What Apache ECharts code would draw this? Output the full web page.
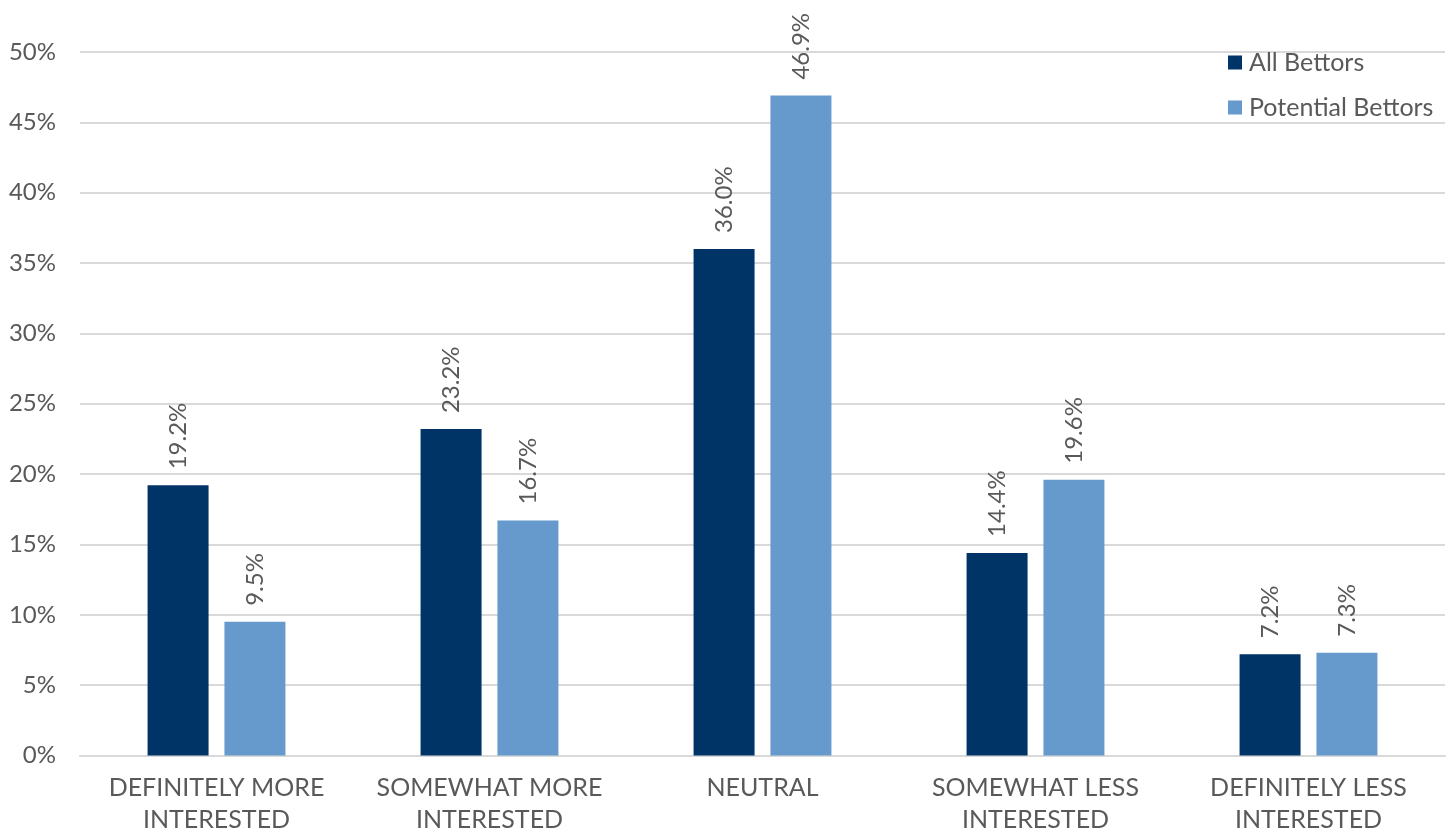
<!DOCTYPE html>
<html>
<head>
<meta charset="utf-8">
<script src="https://cdn.jsdelivr.net/npm/echarts@6/dist/echarts.min.js"></script>
<style>
  html, body { margin: 0; padding: 0; background: #ffffff; }
  #chart { width: 1455px; height: 832px; }
</style>
</head>
<body>
<div id="chart"></div>
<script>
const categories = [
  'DEFINITELY MORE\nINTERESTED',
  'SOMEWHAT MORE\nINTERESTED',
  'NEUTRAL',
  'SOMEWHAT LESS\nINTERESTED',
  'DEFINITELY LESS\nINTERESTED'
];
const allBettors = [19.2, 23.2, 36.0, 14.4, 7.2];
const potentialBettors = [9.5, 16.7, 46.9, 19.6, 7.3];
const yTicks = { min: 0, max: 50, step: 5 };

const FONT = 'Lato';
const TEXT = '#595959';
const GRID = '#d9d9d9';

// value labels stand upright above each bar, reading bottom to top
const valueLabel = {
  show: true,
  position: 'top',
  rotate: 90,
  align: 'left',
  verticalAlign: 'middle',
  distance: 16,
  color: TEXT,
  fontFamily: FONT,
  fontSize: 24,
  formatter: p => p.value.toFixed(1) + '%'
};

const chart = echarts.init(document.getElementById('chart'), null, { renderer: 'canvas' });
chart.setOption({
  backgroundColor: '#ffffff',
  animation: false,
  textStyle: { fontFamily: FONT },
  grid: {
    left: 80, right: 10, top: 52, bottom: 76.5,
    containLabel: false,
    outerBoundsMode: 'none'
  },
  legend: {
    orient: 'vertical',
    left: 1223,
    top: 45,
    itemWidth: 14,
    itemHeight: 14,
    itemGap: 20,
    icon: 'rect',
    textStyle: { color: TEXT, fontSize: 25, fontFamily: FONT, padding: [0, 0, 0, 2] },
    data: ['All Bettors', 'Potential Bettors']
  },
  xAxis: {
    type: 'category',
    data: categories,
    axisLine: { lineStyle: { color: GRID, width: 2 } },
    axisTick: { show: false },
    axisLabel: {
      color: TEXT, fontSize: 25, fontFamily: FONT,
      lineHeight: 32, margin: 16, interval: 0
    }
  },
  yAxis: {
    type: 'value',
    min: yTicks.min,
    max: yTicks.max,
    interval: yTicks.step,
    axisLine: { show: false },
    axisTick: { show: false },
    axisLabel: {
      color: TEXT, fontSize: 24, fontFamily: FONT, margin: 24,
      formatter: '{value}%'
    },
    splitLine: { lineStyle: { color: GRID, width: 2 } }
  },
  series: [
    {
      name: 'All Bettors',
      type: 'bar',
      data: allBettors,
      barWidth: 61,
      barGap: '26%',
      itemStyle: { color: '#003366' },
      label: valueLabel
    },
    {
      name: 'Potential Bettors',
      type: 'bar',
      data: potentialBettors,
      barWidth: 61,
      itemStyle: { color: '#6699cc' },
      label: valueLabel
    }
  ]
});
</script>
</body>
</html>
